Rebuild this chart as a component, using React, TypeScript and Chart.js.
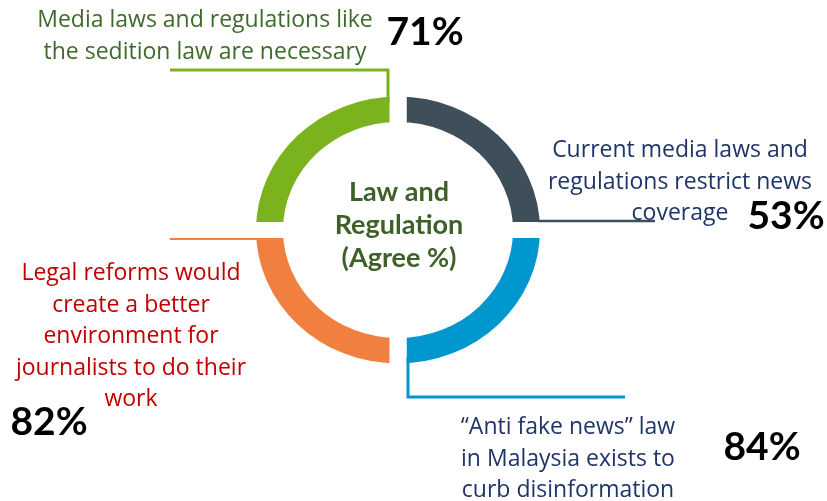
import React, { useEffect, useRef } from "react";
import { Chart, registerables } from "chart.js";

Chart.register(...registerables);

// ---- data (clockwise from 12 o'clock) ----
const statements: string[][] = [
  ["Current media laws and", "regulations restrict news", "coverage"],
  ["\u201CAnti fake news\u201D law", "in Malaysia exists to", "curb disinformation"],
  ["Legal reforms would", "create a better", "environment for", "journalists to do their", "work"],
  ["Media laws and regulations like", "the sedition law are necessary"],
];
const agreePercent = [53, 84, 82, 71];
const segmentShare = [25, 25, 25, 25];
const segmentColors = ["#3f4f5a", "#0097cf", "#f07f40", "#7bb31e"];
const labelColors = ["#1f3468", "#1f3468", "#c00000", "#3f6b2a"];
const centerTitle = ["Law and", "Regulation", "(Agree %)"];

// ---- layout / style ----
const W = 827;
const H = 501;
const CX = 398;
const CY = 230;
const SY = 0.94; // vertical squash of the ring
const GAP = 17;
const LABEL_FONT = "'Open Sans', Lato, sans-serif";
const BOLD_FONT = "Lato, 'Open Sans', sans-serif";
const LABEL_SIZE = 23;
const LINE_H = 31.5;
const PCT_SIZE = 39;

const textBlocks = [
  { x: 680, y: 157 },
  { x: 568, y: 434 },
  { x: 131, y: 280 },
  { x: 205, y: 27 },
];
const pctPos = [
  { x: 786, y: 229 },
  { x: 762, y: 460 },
  { x: 49, y: 435 },
  { x: 425, y: 45 },
];

const labelsPlugin = {
  id: "ringLabels",
  beforeDatasetsDraw(chart: any) {
    const ctx = chart.ctx;
    ctx.save();
    ctx.translate(CX, CY);
    ctx.scale(1, SY);
    ctx.translate(-CX, -CY);
  },
  afterDatasetsDraw(chart: any) {
    chart.ctx.restore();
  },
  afterDraw(chart: any) {
    const ctx = chart.ctx;
    const meta = chart.getDatasetMeta(0);
    const arcs = meta.data;
    const a0 = arcs[0];
    const cx = a0.x;
    const cy = a0.y;
    const outer = a0.outerRadius - GAP / 2;
    const half = GAP / 2;
    const top = cy - outer * SY;
    const bottom = cy + outer * SY;

    ctx.save();
    ctx.lineCap = "butt";
    ctx.lineJoin = "miter";
    // leader lines
    const leaders = [
      { color: segmentColors[0], w: 2.5, pts: [[cx + outer - 2, cy - half * SY - 1], [655, cy - half * SY - 1]] },
      { color: segmentColors[1], w: 3, pts: [[cx + half + 1.5, bottom - 6], [cx + half + 1.5, 397], [625, 397]] },
      { color: segmentColors[2], w: 2, pts: [[170, cy + half * SY + 1], [cx - outer + 2, cy + half * SY + 1]] },
      { color: segmentColors[3], w: 3, pts: [[170, 70], [cx - half - 1.5, 70], [cx - half - 1.5, top + 6]] },
    ];
    leaders.forEach((l) => {
      ctx.strokeStyle = l.color;
      ctx.lineWidth = l.w;
      ctx.beginPath();
      l.pts.forEach((p, i) => (i === 0 ? ctx.moveTo(p[0], p[1]) : ctx.lineTo(p[0], p[1])));
      ctx.stroke();
    });

    // statements
    ctx.textAlign = "center";
    ctx.textBaseline = "alphabetic";
    statements.forEach((lines, i) => {
      ctx.fillStyle = labelColors[i];
      ctx.font = `${LABEL_SIZE}px ${LABEL_FONT}`;
      lines.forEach((t, j) => {
        ctx.fillText(t, textBlocks[i].x, textBlocks[i].y + j * LINE_H);
      });
      ctx.fillStyle = "#000000";
      ctx.font = `bold ${PCT_SIZE}px ${BOLD_FONT}`;
      ctx.fillText(`${agreePercent[i]}%`, pctPos[i].x, pctPos[i].y);
    });

    // centre title
    ctx.fillStyle = "#3f6129";
    ctx.font = `bold 27px ${BOLD_FONT}`;
    centerTitle.forEach((t, j) => {
      ctx.fillText(t, cx + 1, 201 + j * 33);
    });
    ctx.restore();
  },
};

export default function App() {
  const ref = useRef<HTMLCanvasElement | null>(null);
  useEffect(() => {
    if (!ref.current) return;
    const chart = new Chart(ref.current, {
      type: "doughnut",
      data: {
        labels: statements.map((s) => s.join(" ")),
        datasets: [
          {
            data: segmentShare,
            backgroundColor: segmentColors,
            borderColor: "#ffffff",
            borderWidth: GAP,
            hoverOffset: 0,
          },
        ],
      },
      options: {
        responsive: false,
        animation: false,
        radius: 142 + GAP / 2,
        cutout: `${((115 - GAP / 2) / (142 + GAP / 2)) * 100}%`,
        layout: { padding: { left: 0, top: 0, right: W - 2 * CX, bottom: H - 2 * CY } },
        plugins: {
          legend: { display: false },
          tooltip: { enabled: false },
        },
        events: [],
      } as any,
      plugins: [labelsPlugin],
    });
    return () => chart.destroy();
  }, []);
  return (
    <div style={{ position: "fixed", left: 0, top: 0, width: W, height: H, background: "#fff" }}>
      <canvas ref={ref} width={W} height={H} style={{ width: W, height: H, display: "block" }} />
    </div>
  );
}
